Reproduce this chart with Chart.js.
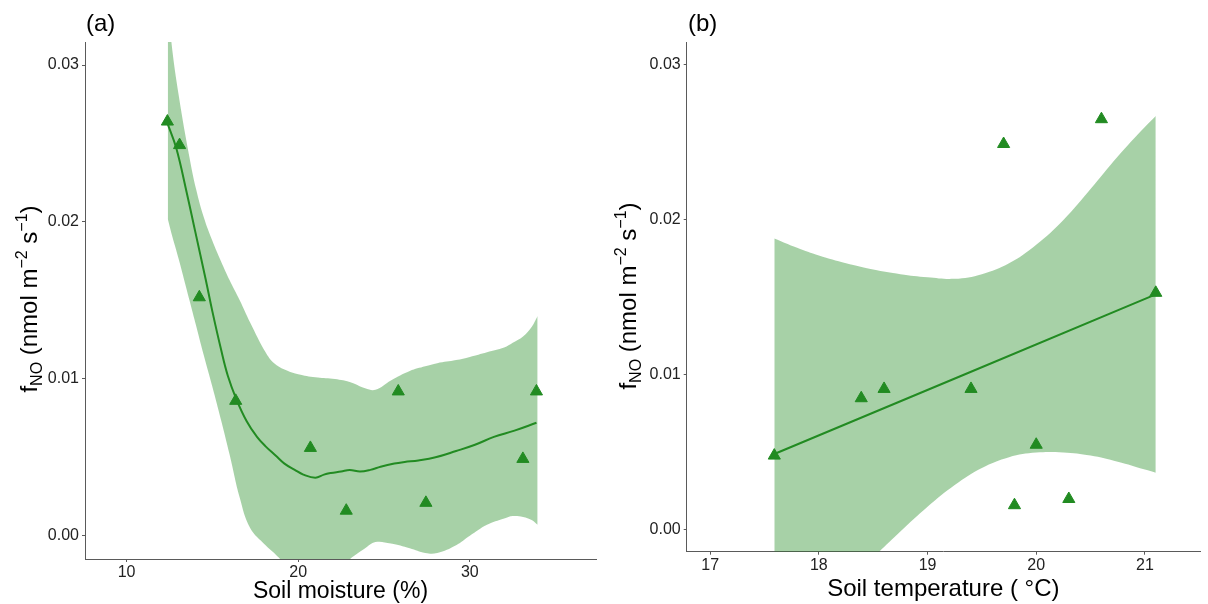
<!DOCTYPE html>
<html>
<head>
<meta charset="utf-8">
<title>fNO vs soil moisture and soil temperature</title>
<script src="https://cdn.jsdelivr.net/npm/chart.js@4.4.1/dist/chart.umd.min.js"></script>
<style>
  html, body { margin: 0; padding: 0; background: #fff; overflow: hidden; }
  #wrap { position: relative; width: 1208px; height: 604px; }
  canvas { position: absolute; top: 0; }
  #chartA { left: 0; }
  #chartB { left: 604px; }
</style>
</head>
<body>
<div id="wrap">
  <canvas id="chartA" width="604" height="604"></canvas>
  <canvas id="chartB" width="604" height="604"></canvas>
</div>
<script>
'use strict';

/* ---- (a) soil moisture ---- */
const moistX  = [12.38, 13.09, 14.24, 16.36, 20.71, 22.8, 25.83, 27.44, 33.09, 33.88];
const moistNO = [0.0264, 0.0249, 0.0152, 0.0086, 0.0056, 0.0016, 0.0092, 0.0021, 0.0049, 0.0092];

// loess fit
const moistFitX = [12.38, 12.9, 13.5, 14.0, 14.6, 15.0, 15.5, 15.9, 16.4, 17.0, 17.6, 18.1, 18.7, 19.2, 19.8,
                   20.3, 21.0, 21.5, 21.9, 22.5, 23.0, 23.6, 24.2, 24.8, 25.6, 26.2, 27.0, 28.0, 29.2, 30.3,
                   31.4, 32.6, 33.88];
const moistFitY = [0.0263, 0.0247, 0.0219, 0.0194, 0.0164, 0.0143, 0.0119, 0.0102, 0.0087, 0.0073, 0.0063,
                   0.0057, 0.0051, 0.0046, 0.0042, 0.0039, 0.0037, 0.0039, 0.0040, 0.0041, 0.0042, 0.0041,
                   0.0042, 0.0044, 0.0046, 0.0047, 0.0048, 0.0050, 0.0054, 0.0058, 0.0063, 0.0067, 0.0072];

// confidence band
const moistBandX  = [12.40, 12.61, 13.05, 13.67, 14.05, 14.5, 15.0, 15.5, 16.0, 16.6, 17.2, 18.1, 18.6, 19.2,
                     20.0, 21.0, 22.0, 23.0, 23.9, 24.5, 25.4, 26.5, 27.4, 28.1, 29.2, 30.0, 31.0, 32.0,
                     32.5, 33.1, 33.6, 33.95];
const moistBandHi = [0.0345, 0.0315, 0.0280, 0.0241, 0.0221, 0.0203, 0.0188, 0.0175, 0.0163, 0.0150, 0.0136,
                     0.0117, 0.0110, 0.0106, 0.0103, 0.0101, 0.0100, 0.0098, 0.0094, 0.0093, 0.0099, 0.0105,
                     0.0108, 0.0110, 0.0112, 0.0114, 0.0117, 0.0120, 0.0123, 0.0127, 0.0133, 0.0140];
const moistBandLo = [0.0202, 0.0193, 0.0176, 0.0150, 0.0134, 0.0115, 0.0095, 0.0074, 0.0052, 0.0024, 0.0005,
                     -0.0006, -0.0011, -0.0018, -0.0030, -0.0034, -0.0025, -0.0015, -0.0008, -0.0004, -0.0005,
                     -0.0008, -0.0011, -0.0011, -0.0006, 0.0000, 0.0007, 0.0011, 0.00126, 0.0012, 0.0010, 0.0007];
const moistTicks = [10, 20, 30];

/* ---- (b) soil temperature ---- */
const tempX  = [17.59, 18.39, 18.6, 19.4, 19.7, 19.8, 20.0, 20.3, 20.6, 21.1];
const tempNO = [0.0048, 0.0085, 0.0091, 0.0091, 0.0249, 0.0016, 0.0055, 0.0020, 0.0265, 0.0153];

// linear fit
const tempFitX = [17.59, 21.1];
const tempFitY = [0.0049, 0.0152];

const tempBandX  = [17.59, 17.8, 18.0, 18.25, 18.5, 18.75, 19.0, 19.25, 19.5, 19.75, 20.0, 20.25, 20.5,
                    20.75, 21.0, 21.1];
const tempBandHi = [0.0188, 0.0182, 0.0177, 0.0172, 0.0168, 0.0165, 0.0163, 0.0162, 0.0165, 0.0172, 0.0184,
                    0.0200, 0.0220, 0.0241, 0.0260, 0.0267];
const tempBandLo = [-0.0090, -0.0073, -0.0057, -0.0037, -0.0018, -0.0001, 0.0015, 0.0029, 0.0040, 0.0047,
                    0.0050, 0.0050, 0.0048, 0.0044, 0.0039, 0.0037];
const tempTicks = [17, 18, 19, 20, 21];

const fluxTicks = [0, 0.01, 0.02, 0.03];

const GREEN = '#228B22';
const BAND = 'rgba(34,139,34,0.4)';
const AXIS = '#5a5a5a';
const FONT = "'Liberation Sans', Arial, sans-serif";

const zip = (xs, ys) => xs.map((x, i) => ({ x, y: ys[i] }));

/* panel tag, x title and the f_NO y title (with sub/superscripts) */
const panelText = {
    id: 'panelText',
    afterDraw(chart, args, o) {
        const ctx = chart.ctx;
        const area = chart.chartArea;
        ctx.save();
        ctx.fillStyle = '#000';
        ctx.textBaseline = 'alphabetic';

        ctx.font = `24px ${FONT}`;
        ctx.textAlign = 'left';
        ctx.fillText(o.tag, o.tagX, 31);

        ctx.font = `${o.xTitleSize}px ${FONT}`;
        ctx.textAlign = 'center';
        ctx.fillText(o.xTitle, (area.left + area.right) / 2, o.xTitleY);

        const parts = [
            ['f', 0, 24], ['NO', 5, 16], [' (nmol m', 0, 24], ['\u22122', -10, 16],
            [' s', 0, 24], ['\u22121', -10, 16], [')', 0, 24],
        ];
        let total = 0;
        parts.forEach(p => { ctx.font = `${p[2]}px ${FONT}`; p.push(ctx.measureText(p[0]).width); total += p[3]; });
        ctx.translate(o.yTitleX, o.yTitleY);
        ctx.rotate(-Math.PI / 2);
        ctx.textAlign = 'left';
        let x = -total / 2;
        parts.forEach(p => {
            ctx.font = `${p[2]}px ${FONT}`;
            ctx.fillText(p[0], x, p[1]);
            x += p[3];
        });
        ctx.restore();
    },
};

function makePanel(id, d) {
    new Chart(document.getElementById(id), {
        type: 'scatter',
        data: {
            datasets: [
                { data: zip(d.ptX, d.ptY), pointStyle: 'triangle', pointRadius: 7, borderWidth: 1,
                  backgroundColor: GREEN, borderColor: GREEN, order: 0 },
                { data: zip(d.fitX, d.fitY), showLine: true, borderColor: GREEN, borderWidth: 2,
                  pointRadius: 0, tension: 0.4, order: 1 },
                { data: zip(d.bandX, d.bandHi), showLine: true, fill: '+1', backgroundColor: BAND,
                  borderColor: 'rgba(0,0,0,0)', borderWidth: 0, pointRadius: 0, tension: 0.4, order: 2 },
                { data: zip(d.bandX, d.bandLo), showLine: true, fill: false,
                  borderColor: 'rgba(0,0,0,0)', borderWidth: 0, pointRadius: 0, tension: 0.4, order: 3 },
            ],
        },
        options: {
            responsive: false,
            animation: false,
            events: [],
            layout: { padding: { left: 0, top: 42, right: d.padRight, bottom: 0 } },
            plugins: {
                legend: { display: false },
                tooltip: { enabled: false },
                panelText: d.text,
            },
            scales: {
                x: {
                    type: 'linear',
                    min: d.xMin, max: d.xMax,
                    afterBuildTicks: s => { s.ticks = d.xTicks.map(v => ({ value: v })); },
                    afterFit: s => { s.height = d.xAxisH; },
                    grid: { drawOnChartArea: false, drawTicks: true, tickLength: 3, color: AXIS, lineWidth: 1 },
                    border: { display: true, color: AXIS, width: 1 },
                    ticks: { color: '#222', font: { family: FONT, size: 16 }, padding: 1, maxRotation: 0, autoSkip: false },
                },
                y: {
                    type: 'linear',
                    min: d.yMin, max: d.yMax,
                    afterBuildTicks: s => { s.ticks = fluxTicks.map(v => ({ value: v })); },
                    afterFit: s => { s.width = d.yAxisW; },
                    grid: { drawOnChartArea: false, drawTicks: true, tickLength: 3, color: AXIS, lineWidth: 1 },
                    border: { display: true, color: AXIS, width: 1 },
                    ticks: { color: '#222', font: { family: FONT, size: 16 }, padding: 3,
                             callback: v => v.toFixed(2) },
                },
            },
        },
        plugins: [panelText],
    });
}

makePanel('chartA', {
    ptX: moistX, ptY: moistNO, fitX: moistFitX, fitY: moistFitY,
    bandX: moistBandX, bandHi: moistBandHi, bandLo: moistBandLo,
    xTicks: moistTicks, xMin: 7.58, xMax: 37.35, yMin: -0.00148, yMax: 0.03147,
    yAxisW: 85, xAxisH: 45, padRight: 2.3,
    text: { tag: '(a)', tagX: 86, xTitle: 'Soil moisture (%)', xTitleSize: 23, xTitleY: 598,
            yTitleX: 37, yTitleY: 299 },
});

makePanel('chartB', {
    ptX: tempX, ptY: tempNO, fitX: tempFitX, fitY: tempFitY,
    bandX: tempBandX, bandHi: tempBandHi, bandLo: tempBandLo,
    xTicks: tempTicks, xMin: 16.784, xMax: 21.507, yMin: -0.00140, yMax: 0.03148,
    yAxisW: 82.7, xAxisH: 52.3, padRight: 6,
    text: { tag: '(b)', tagX: 84, xTitle: 'Soil temperature ( \u00B0C)', xTitleSize: 24, xTitleY: 596,
            yTitleX: 32, yTitleY: 296 },
});
</script>
</body>
</html>
